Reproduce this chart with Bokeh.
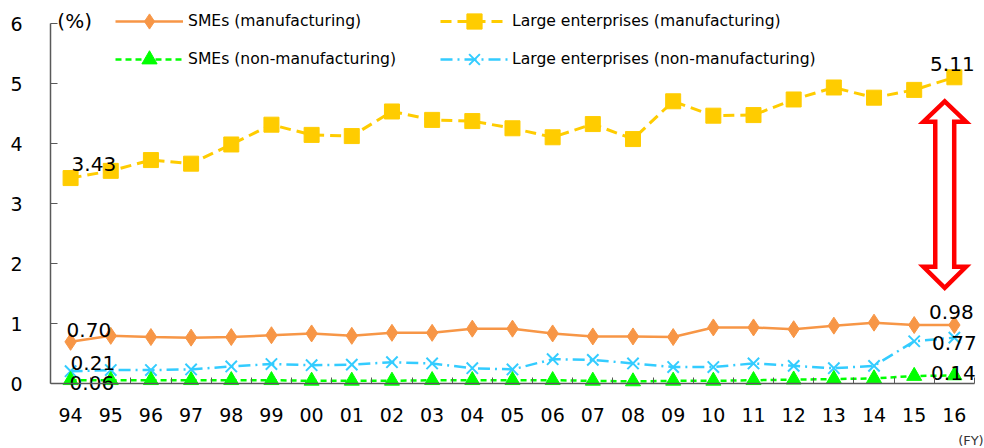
from bokeh.plotting import figure
from bokeh.models import Range1d, FixedTicker, Legend, LegendItem, Label
from bokeh.core.properties import value
from bokeh.embed import file_html
from bokeh.resources import INLINE

# ---- data ----
years = ["94", "95", "96", "97", "98", "99", "00", "01", "02", "03", "04", "05",
         "06", "07", "08", "09", "10", "11", "12", "13", "14", "15", "16"]
smes_mfg = [0.70, 0.80, 0.78, 0.77, 0.78, 0.81, 0.84, 0.80, 0.85, 0.85, 0.92, 0.92,
            0.84, 0.79, 0.79, 0.78, 0.94, 0.94, 0.91, 0.97, 1.02, 0.98, 0.98]
large_mfg = [3.43, 3.55, 3.73, 3.67, 3.99, 4.32, 4.15, 4.13, 4.54, 4.40, 4.38, 4.26,
             4.11, 4.33, 4.08, 4.71, 4.47, 4.48, 4.74, 4.94, 4.77, 4.90, 5.11]
smes_nonmfg = [0.06, 0.06, 0.06, 0.06, 0.06, 0.06, 0.05, 0.05, 0.05, 0.06, 0.06, 0.06,
               0.06, 0.05, 0.04, 0.05, 0.05, 0.06, 0.07, 0.08, 0.09, 0.13, 0.14]
large_nonmfg = [0.21, 0.23, 0.23, 0.24, 0.29, 0.33, 0.31, 0.32, 0.36, 0.34, 0.26, 0.24,
                0.41, 0.40, 0.34, 0.28, 0.28, 0.34, 0.30, 0.26, 0.30, 0.71, 0.77]
y_ticks = [0, 1, 2, 3, 4, 5, 6]
series_names = ["SMEs (manufacturing)", "Large enterprises (manufacturing)",
                "SMEs (non-manufacturing)", "Large enterprises (non-manufacturing)"]

ORANGE = "#F79646"
GOLD = "#FFCC00"
GREEN = "#00FF00"
CYAN = "#33CCFF"
FONT = "DejaVu Sans"

xi = list(range(len(years)))
n = len(years)

p = figure(width=984, height=448, output_backend="svg", toolbar_location=None,
           x_range=Range1d(-0.5, n - 0.25), y_range=Range1d(-1.078, 6.39),
           min_border_left=50, min_border_right=0, min_border_top=0, min_border_bottom=0)
p.outline_line_color = None
p.grid.visible = False
p.background_fill_color = "white"

AXIS_COLOR = "#595959"
# x axis (drawn at y = 0 inside the frame)
xa = p.xaxis[0]
xa.fixed_location = 0
xa.ticker = FixedTicker(ticks=xi, minor_ticks=[i - 0.5 for i in range(n + 1)])
xa.major_label_overrides = {i: y for i, y in zip(xi, years)}
xa.bounds = (-0.5, n - 0.5)
xa.major_tick_in = 0
xa.major_tick_out = 0
xa.minor_tick_in = 6
xa.minor_tick_out = 0
xa.minor_tick_line_color = AXIS_COLOR
xa.axis_line_color = AXIS_COLOR
xa.axis_line_width = 1.5
xa.major_label_standoff = 24
xa.major_label_text_font = FONT
xa.major_label_text_font_size = "19px"
xa.major_label_text_color = "#000000"

ya = p.yaxis[0]
ya.ticker = FixedTicker(ticks=y_ticks, minor_ticks=[])
ya.bounds = (0, 6)
ya.major_tick_in = 7
ya.major_tick_out = 0
ya.major_tick_line_color = AXIS_COLOR
ya.minor_tick_in = 0
ya.minor_tick_out = 0
ya.axis_line_color = AXIS_COLOR
ya.axis_line_width = 1.5
ya.major_label_standoff = 28
ya.major_label_text_font = FONT
ya.major_label_text_font_size = "19px"
ya.major_label_text_color = "#000000"

# ---- series ----
l1 = p.line(xi, smes_mfg, line_color=ORANGE, line_width=2.5)
m1 = p.scatter(xi, smes_mfg, marker="diamond", size=17, fill_color=ORANGE, line_color=ORANGE)

l2 = p.line(xi, large_mfg, line_color=GOLD, line_width=3, line_dash="11 6")
m2 = p.scatter(xi, large_mfg, marker="square", size=15, fill_color=GOLD, line_color=GOLD)

l4 = p.line(xi, large_nonmfg, line_color=CYAN, line_width=2.5, line_dash="12 5 2 5")
m4 = p.scatter(xi, large_nonmfg, marker="x", size=16, line_color=CYAN, line_width=2)

l3 = p.line(xi, smes_nonmfg, line_color=GREEN, line_width=2.5, line_dash="6 4")
m3 = p.scatter(xi, smes_nonmfg, marker="triangle", size=15, fill_color=GREEN, line_color=GREEN)

# ---- data labels ----
start_vals = [large_mfg[0], smes_mfg[0], large_nonmfg[0], smes_nonmfg[0]]
end_vals = [large_mfg[-1], smes_mfg[-1], large_nonmfg[-1], smes_nonmfg[-1]]
start_dx = [1, -4, 0, -1]
start_dy = [-14, -12, -8, 3]
end_dx = [-2, -3, 0, -1]
end_dy = [-13, -13, 5, -2]
for v, dx, dy in zip(start_vals, start_dx, start_dy):
    p.text(x=[xi[0]], y=[v], text=["%.2f" % v], x_offset=dx, y_offset=dy,
           text_align="left", text_baseline="middle", text_font=value(FONT),
           text_font_size="20px", text_color="#000000")
for v, dx, dy in zip(end_vals, end_dx, end_dy):
    p.text(x=[xi[-1]], y=[v], text=["%.2f" % v], x_offset=dx, y_offset=dy,
           text_align="center", text_baseline="middle", text_font=value(FONT),
           text_font_size="20px", text_color="#000000")

# ---- red double arrow (annotation) ----
cx = xi[-1] - 0.24
hs = 0.236
hh = 0.53
top, hb_top, hb_bot, bot = 4.71, 4.37, 1.95, 1.60
p.patch([cx, cx + hh, cx + hs, cx + hs, cx + hh, cx, cx - hh, cx - hs, cx - hs, cx - hh],
        [top, hb_top, hb_top, hb_bot, hb_bot, bot, hb_bot, hb_bot, hb_top, hb_top],
        fill_color="white", line_color="#FF0000", line_width=4.5, line_join="miter")

# ---- legends ----
leg_common = dict(glyph_width=68, glyph_height=38, label_height=38, spacing=0,
                  padding=0, margin=0, border_line_alpha=0, background_fill_alpha=0,
                  label_text_font=FONT, label_text_font_size="15.6px",
                  label_text_color="#000000")
leg1 = Legend(items=[LegendItem(label=series_names[0], renderers=[l1, m1]),
                     LegendItem(label=series_names[2], renderers=[l3, m3])],
              location=(65, 370), label_standoff=5, **leg_common)
leg2 = Legend(items=[LegendItem(label=series_names[1], renderers=[l2, m2]),
                     LegendItem(label=series_names[3], renderers=[l4, m4])],
              location=(390, 370), label_standoff=4, **leg_common)
p.add_layout(leg1)
p.add_layout(leg2)

# ---- unit labels ----
p.add_layout(Label(x=-0.33, y=6.055, text="(%)", text_font=FONT, text_font_size="20px",
                   text_baseline="middle", text_align="left", text_color="#000000"))
p.add_layout(Label(x=n - 0.27, y=-0.945, text="(FY)", text_font=FONT, text_font_size="13px",
                   text_baseline="middle", text_align="right", text_color="#333333"))

open("out.html", "w").write(file_html(p, INLINE))
